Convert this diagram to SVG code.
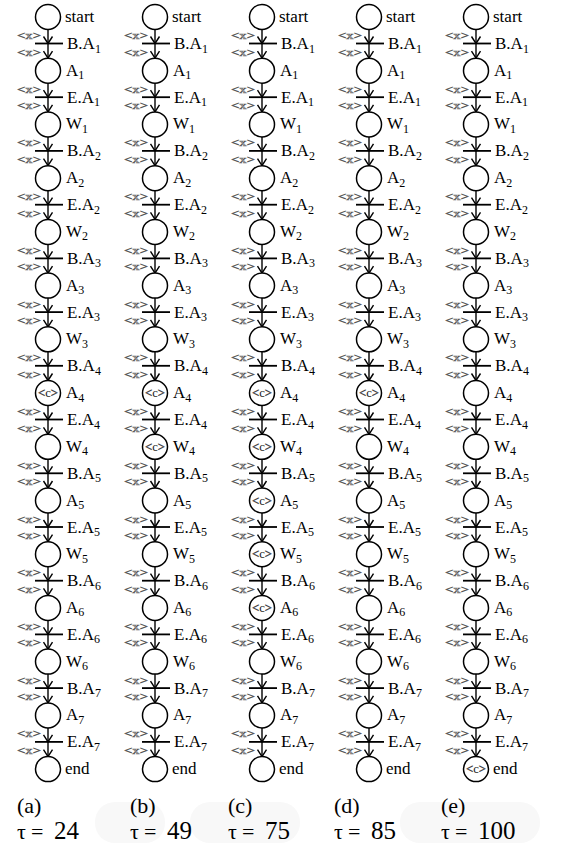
<svg xmlns="http://www.w3.org/2000/svg" width="573" height="843" viewBox="0 0 573 843" font-family="'Liberation Serif', 'Times New Roman', serif">
<defs>
<style>
text{font-family:"Liberation Serif","Times New Roman",serif}
.n circle{fill:#fff;stroke:#000;stroke-width:1.5}
.l{font-size:17px;fill:#000}
.s{font-size:12px}
.x{font-size:11px;fill:#fff;stroke:#555;stroke-width:0.45}
.c{font-size:12px;fill:#fff;stroke:#444;stroke-width:0.5}
.cc{fill:#222;stroke:none}
.bar{stroke:#000;stroke-width:1.8}
.e{fill:none;stroke:#000;stroke-width:1.4;marker-mid:url(#ah);marker-end:url(#ah)}
.cap{font-size:22px;fill:#000}
.num{font-size:25px}
</style>
<marker id="ah" viewBox="0 0 7 10" refX="7" refY="5" markerWidth="7" markerHeight="10" orient="auto" markerUnits="userSpaceOnUse" style="overflow:visible"><path d="M0,0.5 L7,5 L0,9.5" fill="none" stroke="#000" stroke-width="1.4" stroke-linejoin="round"/></marker>
</defs>
<rect width="573" height="843" fill="#fff"/>
<g id="watermark" fill="#f8f8f8">
<rect x="95" y="802" width="70" height="41" rx="20"/>
<rect x="190" y="802" width="110" height="41" rx="20"/>
<rect x="400" y="802" width="140" height="41" rx="20"/>
</g>

<g id="connectors">
<g transform="translate(48,0)"><path class="e" d="M0,29.5V43.5V58.2"/><path class="e" d="M0,83.2V97.2V111.9"/><path class="e" d="M0,136.9V150.9V165.7"/><path class="e" d="M0,190.7V204.7V219.4"/><path class="e" d="M0,244.4V258.4V273.1"/><path class="e" d="M0,298.1V312.1V326.8"/><path class="e" d="M0,351.8V365.8V380.5"/><path class="e" d="M0,405.5V419.5V434.3"/><path class="e" d="M0,459.3V473.3V488"/><path class="e" d="M0,513V527V541.7"/><path class="e" d="M0,566.7V580.7V595.4"/><path class="e" d="M0,620.4V634.4V649.1"/><path class="e" d="M0,674.1V688.1V702.9"/><path class="e" d="M0,727.9V741.9V756.6"/></g>
<g transform="translate(155,0)"><path class="e" d="M0,29.5V43.5V58.2"/><path class="e" d="M0,83.2V97.2V111.9"/><path class="e" d="M0,136.9V150.9V165.7"/><path class="e" d="M0,190.7V204.7V219.4"/><path class="e" d="M0,244.4V258.4V273.1"/><path class="e" d="M0,298.1V312.1V326.8"/><path class="e" d="M0,351.8V365.8V380.5"/><path class="e" d="M0,405.5V419.5V434.3"/><path class="e" d="M0,459.3V473.3V488"/><path class="e" d="M0,513V527V541.7"/><path class="e" d="M0,566.7V580.7V595.4"/><path class="e" d="M0,620.4V634.4V649.1"/><path class="e" d="M0,674.1V688.1V702.9"/><path class="e" d="M0,727.9V741.9V756.6"/></g>
<g transform="translate(262,0)"><path class="e" d="M0,29.5V43.5V58.2"/><path class="e" d="M0,83.2V97.2V111.9"/><path class="e" d="M0,136.9V150.9V165.7"/><path class="e" d="M0,190.7V204.7V219.4"/><path class="e" d="M0,244.4V258.4V273.1"/><path class="e" d="M0,298.1V312.1V326.8"/><path class="e" d="M0,351.8V365.8V380.5"/><path class="e" d="M0,405.5V419.5V434.3"/><path class="e" d="M0,459.3V473.3V488"/><path class="e" d="M0,513V527V541.7"/><path class="e" d="M0,566.7V580.7V595.4"/><path class="e" d="M0,620.4V634.4V649.1"/><path class="e" d="M0,674.1V688.1V702.9"/><path class="e" d="M0,727.9V741.9V756.6"/></g>
<g transform="translate(369,0)"><path class="e" d="M0,29.5V43.5V58.2"/><path class="e" d="M0,83.2V97.2V111.9"/><path class="e" d="M0,136.9V150.9V165.7"/><path class="e" d="M0,190.7V204.7V219.4"/><path class="e" d="M0,244.4V258.4V273.1"/><path class="e" d="M0,298.1V312.1V326.8"/><path class="e" d="M0,351.8V365.8V380.5"/><path class="e" d="M0,405.5V419.5V434.3"/><path class="e" d="M0,459.3V473.3V488"/><path class="e" d="M0,513V527V541.7"/><path class="e" d="M0,566.7V580.7V595.4"/><path class="e" d="M0,620.4V634.4V649.1"/><path class="e" d="M0,674.1V688.1V702.9"/><path class="e" d="M0,727.9V741.9V756.6"/></g>
<g transform="translate(476,0)"><path class="e" d="M0,29.5V43.5V58.2"/><path class="e" d="M0,83.2V97.2V111.9"/><path class="e" d="M0,136.9V150.9V165.7"/><path class="e" d="M0,190.7V204.7V219.4"/><path class="e" d="M0,244.4V258.4V273.1"/><path class="e" d="M0,298.1V312.1V326.8"/><path class="e" d="M0,351.8V365.8V380.5"/><path class="e" d="M0,405.5V419.5V434.3"/><path class="e" d="M0,459.3V473.3V488"/><path class="e" d="M0,513V527V541.7"/><path class="e" d="M0,566.7V580.7V595.4"/><path class="e" d="M0,620.4V634.4V649.1"/><path class="e" d="M0,674.1V688.1V702.9"/><path class="e" d="M0,727.9V741.9V756.6"/></g>
</g>

<g id="col-a" transform="translate(48,0)">
<g id="a-n0" class="n"><circle cx="0" cy="17" r="12.5"/><text class="l" x="17" y="22">start</text></g>
<g id="a-n1" class="n"><circle cx="0" cy="70.7" r="12.5"/><text class="l" x="18" y="75.7">A<tspan class="s" dy="3.5">1</tspan></text></g>
<g id="a-n2" class="n"><circle cx="0" cy="124.4" r="12.5"/><text class="l" x="18" y="129.4">W<tspan class="s" dy="3.5">1</tspan></text></g>
<g id="a-n3" class="n"><circle cx="0" cy="178.2" r="12.5"/><text class="l" x="18" y="183.2">A<tspan class="s" dy="3.5">2</tspan></text></g>
<g id="a-n4" class="n"><circle cx="0" cy="231.9" r="12.5"/><text class="l" x="18" y="236.9">W<tspan class="s" dy="3.5">2</tspan></text></g>
<g id="a-n5" class="n"><circle cx="0" cy="285.6" r="12.5"/><text class="l" x="18" y="290.6">A<tspan class="s" dy="3.5">3</tspan></text></g>
<g id="a-n6" class="n"><circle cx="0" cy="339.3" r="12.5"/><text class="l" x="18" y="344.3">W<tspan class="s" dy="3.5">3</tspan></text></g>
<g id="a-n7" class="n"><circle cx="0" cy="393" r="12.5"/><text class="c" x="-10" y="397" textLength="20" lengthAdjust="spacingAndGlyphs">&lt;<tspan class="cc">c</tspan>&gt;</text><text class="l" x="18" y="398">A<tspan class="s" dy="3.5">4</tspan></text></g>
<g id="a-n8" class="n"><circle cx="0" cy="446.8" r="12.5"/><text class="l" x="18" y="451.8">W<tspan class="s" dy="3.5">4</tspan></text></g>
<g id="a-n9" class="n"><circle cx="0" cy="500.5" r="12.5"/><text class="l" x="18" y="505.5">A<tspan class="s" dy="3.5">5</tspan></text></g>
<g id="a-n10" class="n"><circle cx="0" cy="554.2" r="12.5"/><text class="l" x="18" y="559.2">W<tspan class="s" dy="3.5">5</tspan></text></g>
<g id="a-n11" class="n"><circle cx="0" cy="607.9" r="12.5"/><text class="l" x="18" y="612.9">A<tspan class="s" dy="3.5">6</tspan></text></g>
<g id="a-n12" class="n"><circle cx="0" cy="661.6" r="12.5"/><text class="l" x="18" y="666.6">W<tspan class="s" dy="3.5">6</tspan></text></g>
<g id="a-n13" class="n"><circle cx="0" cy="715.4" r="12.5"/><text class="l" x="18" y="720.4">A<tspan class="s" dy="3.5">7</tspan></text></g>
<g id="a-n14" class="n"><circle cx="0" cy="769.1" r="12.5"/><text class="l" x="17" y="774.1">end</text></g>
<g id="a-t0"><line class="bar" x1="-13" y1="43.5" x2="15" y2="43.5"/><text class="l" x="19" y="49">B.A<tspan class="s" dy="3.5">1</tspan></text><text class="x" x="-31" y="39" textLength="24" lengthAdjust="spacingAndGlyphs">&lt;x&gt;</text><text class="x" x="-31" y="55.5" textLength="24" lengthAdjust="spacingAndGlyphs">&lt;x&gt;</text></g>
<g id="a-t1"><line class="bar" x1="-13" y1="97.2" x2="15" y2="97.2"/><text class="l" x="19" y="102.7">E.A<tspan class="s" dy="3.5">1</tspan></text><text class="x" x="-31" y="92.7" textLength="24" lengthAdjust="spacingAndGlyphs">&lt;x&gt;</text><text class="x" x="-31" y="109.2" textLength="24" lengthAdjust="spacingAndGlyphs">&lt;x&gt;</text></g>
<g id="a-t2"><line class="bar" x1="-13" y1="150.9" x2="15" y2="150.9"/><text class="l" x="19" y="156.4">B.A<tspan class="s" dy="3.5">2</tspan></text><text class="x" x="-31" y="146.4" textLength="24" lengthAdjust="spacingAndGlyphs">&lt;x&gt;</text><text class="x" x="-31" y="162.9" textLength="24" lengthAdjust="spacingAndGlyphs">&lt;x&gt;</text></g>
<g id="a-t3"><line class="bar" x1="-13" y1="204.7" x2="15" y2="204.7"/><text class="l" x="19" y="210.2">E.A<tspan class="s" dy="3.5">2</tspan></text><text class="x" x="-31" y="200.2" textLength="24" lengthAdjust="spacingAndGlyphs">&lt;x&gt;</text><text class="x" x="-31" y="216.7" textLength="24" lengthAdjust="spacingAndGlyphs">&lt;x&gt;</text></g>
<g id="a-t4"><line class="bar" x1="-13" y1="258.4" x2="15" y2="258.4"/><text class="l" x="19" y="263.9">B.A<tspan class="s" dy="3.5">3</tspan></text><text class="x" x="-31" y="253.9" textLength="24" lengthAdjust="spacingAndGlyphs">&lt;x&gt;</text><text class="x" x="-31" y="270.4" textLength="24" lengthAdjust="spacingAndGlyphs">&lt;x&gt;</text></g>
<g id="a-t5"><line class="bar" x1="-13" y1="312.1" x2="15" y2="312.1"/><text class="l" x="19" y="317.6">E.A<tspan class="s" dy="3.5">3</tspan></text><text class="x" x="-31" y="307.6" textLength="24" lengthAdjust="spacingAndGlyphs">&lt;x&gt;</text><text class="x" x="-31" y="324.1" textLength="24" lengthAdjust="spacingAndGlyphs">&lt;x&gt;</text></g>
<g id="a-t6"><line class="bar" x1="-13" y1="365.8" x2="15" y2="365.8"/><text class="l" x="19" y="371.3">B.A<tspan class="s" dy="3.5">4</tspan></text><text class="x" x="-31" y="361.3" textLength="24" lengthAdjust="spacingAndGlyphs">&lt;x&gt;</text><text class="x" x="-31" y="377.8" textLength="24" lengthAdjust="spacingAndGlyphs">&lt;x&gt;</text></g>
<g id="a-t7"><line class="bar" x1="-13" y1="419.5" x2="15" y2="419.5"/><text class="l" x="19" y="425">E.A<tspan class="s" dy="3.5">4</tspan></text><text class="x" x="-31" y="415" textLength="24" lengthAdjust="spacingAndGlyphs">&lt;x&gt;</text><text class="x" x="-31" y="431.5" textLength="24" lengthAdjust="spacingAndGlyphs">&lt;x&gt;</text></g>
<g id="a-t8"><line class="bar" x1="-13" y1="473.3" x2="15" y2="473.3"/><text class="l" x="19" y="478.8">B.A<tspan class="s" dy="3.5">5</tspan></text><text class="x" x="-31" y="468.8" textLength="24" lengthAdjust="spacingAndGlyphs">&lt;x&gt;</text><text class="x" x="-31" y="485.3" textLength="24" lengthAdjust="spacingAndGlyphs">&lt;x&gt;</text></g>
<g id="a-t9"><line class="bar" x1="-13" y1="527" x2="15" y2="527"/><text class="l" x="19" y="532.5">E.A<tspan class="s" dy="3.5">5</tspan></text><text class="x" x="-31" y="522.5" textLength="24" lengthAdjust="spacingAndGlyphs">&lt;x&gt;</text><text class="x" x="-31" y="539" textLength="24" lengthAdjust="spacingAndGlyphs">&lt;x&gt;</text></g>
<g id="a-t10"><line class="bar" x1="-13" y1="580.7" x2="15" y2="580.7"/><text class="l" x="19" y="586.2">B.A<tspan class="s" dy="3.5">6</tspan></text><text class="x" x="-31" y="576.2" textLength="24" lengthAdjust="spacingAndGlyphs">&lt;x&gt;</text><text class="x" x="-31" y="592.7" textLength="24" lengthAdjust="spacingAndGlyphs">&lt;x&gt;</text></g>
<g id="a-t11"><line class="bar" x1="-13" y1="634.4" x2="15" y2="634.4"/><text class="l" x="19" y="639.9">E.A<tspan class="s" dy="3.5">6</tspan></text><text class="x" x="-31" y="629.9" textLength="24" lengthAdjust="spacingAndGlyphs">&lt;x&gt;</text><text class="x" x="-31" y="646.4" textLength="24" lengthAdjust="spacingAndGlyphs">&lt;x&gt;</text></g>
<g id="a-t12"><line class="bar" x1="-13" y1="688.1" x2="15" y2="688.1"/><text class="l" x="19" y="693.6">B.A<tspan class="s" dy="3.5">7</tspan></text><text class="x" x="-31" y="683.6" textLength="24" lengthAdjust="spacingAndGlyphs">&lt;x&gt;</text><text class="x" x="-31" y="700.1" textLength="24" lengthAdjust="spacingAndGlyphs">&lt;x&gt;</text></g>
<g id="a-t13"><line class="bar" x1="-13" y1="741.9" x2="15" y2="741.9"/><text class="l" x="19" y="747.4">E.A<tspan class="s" dy="3.5">7</tspan></text><text class="x" x="-31" y="737.4" textLength="24" lengthAdjust="spacingAndGlyphs">&lt;x&gt;</text><text class="x" x="-31" y="753.9" textLength="24" lengthAdjust="spacingAndGlyphs">&lt;x&gt;</text></g>
</g>

<g id="col-b" transform="translate(155,0)">
<g id="b-n0" class="n"><circle cx="0" cy="17" r="12.5"/><text class="l" x="17" y="22">start</text></g>
<g id="b-n1" class="n"><circle cx="0" cy="70.7" r="12.5"/><text class="l" x="18" y="75.7">A<tspan class="s" dy="3.5">1</tspan></text></g>
<g id="b-n2" class="n"><circle cx="0" cy="124.4" r="12.5"/><text class="l" x="18" y="129.4">W<tspan class="s" dy="3.5">1</tspan></text></g>
<g id="b-n3" class="n"><circle cx="0" cy="178.2" r="12.5"/><text class="l" x="18" y="183.2">A<tspan class="s" dy="3.5">2</tspan></text></g>
<g id="b-n4" class="n"><circle cx="0" cy="231.9" r="12.5"/><text class="l" x="18" y="236.9">W<tspan class="s" dy="3.5">2</tspan></text></g>
<g id="b-n5" class="n"><circle cx="0" cy="285.6" r="12.5"/><text class="l" x="18" y="290.6">A<tspan class="s" dy="3.5">3</tspan></text></g>
<g id="b-n6" class="n"><circle cx="0" cy="339.3" r="12.5"/><text class="l" x="18" y="344.3">W<tspan class="s" dy="3.5">3</tspan></text></g>
<g id="b-n7" class="n"><circle cx="0" cy="393" r="12.5"/><text class="c" x="-10" y="397" textLength="20" lengthAdjust="spacingAndGlyphs">&lt;<tspan class="cc">c</tspan>&gt;</text><text class="l" x="18" y="398">A<tspan class="s" dy="3.5">4</tspan></text></g>
<g id="b-n8" class="n"><circle cx="0" cy="446.8" r="12.5"/><text class="c" x="-10" y="450.8" textLength="20" lengthAdjust="spacingAndGlyphs">&lt;<tspan class="cc">c</tspan>&gt;</text><text class="l" x="18" y="451.8">W<tspan class="s" dy="3.5">4</tspan></text></g>
<g id="b-n9" class="n"><circle cx="0" cy="500.5" r="12.5"/><text class="l" x="18" y="505.5">A<tspan class="s" dy="3.5">5</tspan></text></g>
<g id="b-n10" class="n"><circle cx="0" cy="554.2" r="12.5"/><text class="l" x="18" y="559.2">W<tspan class="s" dy="3.5">5</tspan></text></g>
<g id="b-n11" class="n"><circle cx="0" cy="607.9" r="12.5"/><text class="l" x="18" y="612.9">A<tspan class="s" dy="3.5">6</tspan></text></g>
<g id="b-n12" class="n"><circle cx="0" cy="661.6" r="12.5"/><text class="l" x="18" y="666.6">W<tspan class="s" dy="3.5">6</tspan></text></g>
<g id="b-n13" class="n"><circle cx="0" cy="715.4" r="12.5"/><text class="l" x="18" y="720.4">A<tspan class="s" dy="3.5">7</tspan></text></g>
<g id="b-n14" class="n"><circle cx="0" cy="769.1" r="12.5"/><text class="l" x="17" y="774.1">end</text></g>
<g id="b-t0"><line class="bar" x1="-13" y1="43.5" x2="15" y2="43.5"/><text class="l" x="19" y="49">B.A<tspan class="s" dy="3.5">1</tspan></text><text class="x" x="-31" y="39" textLength="24" lengthAdjust="spacingAndGlyphs">&lt;x&gt;</text><text class="x" x="-31" y="55.5" textLength="24" lengthAdjust="spacingAndGlyphs">&lt;x&gt;</text></g>
<g id="b-t1"><line class="bar" x1="-13" y1="97.2" x2="15" y2="97.2"/><text class="l" x="19" y="102.7">E.A<tspan class="s" dy="3.5">1</tspan></text><text class="x" x="-31" y="92.7" textLength="24" lengthAdjust="spacingAndGlyphs">&lt;x&gt;</text><text class="x" x="-31" y="109.2" textLength="24" lengthAdjust="spacingAndGlyphs">&lt;x&gt;</text></g>
<g id="b-t2"><line class="bar" x1="-13" y1="150.9" x2="15" y2="150.9"/><text class="l" x="19" y="156.4">B.A<tspan class="s" dy="3.5">2</tspan></text><text class="x" x="-31" y="146.4" textLength="24" lengthAdjust="spacingAndGlyphs">&lt;x&gt;</text><text class="x" x="-31" y="162.9" textLength="24" lengthAdjust="spacingAndGlyphs">&lt;x&gt;</text></g>
<g id="b-t3"><line class="bar" x1="-13" y1="204.7" x2="15" y2="204.7"/><text class="l" x="19" y="210.2">E.A<tspan class="s" dy="3.5">2</tspan></text><text class="x" x="-31" y="200.2" textLength="24" lengthAdjust="spacingAndGlyphs">&lt;x&gt;</text><text class="x" x="-31" y="216.7" textLength="24" lengthAdjust="spacingAndGlyphs">&lt;x&gt;</text></g>
<g id="b-t4"><line class="bar" x1="-13" y1="258.4" x2="15" y2="258.4"/><text class="l" x="19" y="263.9">B.A<tspan class="s" dy="3.5">3</tspan></text><text class="x" x="-31" y="253.9" textLength="24" lengthAdjust="spacingAndGlyphs">&lt;x&gt;</text><text class="x" x="-31" y="270.4" textLength="24" lengthAdjust="spacingAndGlyphs">&lt;x&gt;</text></g>
<g id="b-t5"><line class="bar" x1="-13" y1="312.1" x2="15" y2="312.1"/><text class="l" x="19" y="317.6">E.A<tspan class="s" dy="3.5">3</tspan></text><text class="x" x="-31" y="307.6" textLength="24" lengthAdjust="spacingAndGlyphs">&lt;x&gt;</text><text class="x" x="-31" y="324.1" textLength="24" lengthAdjust="spacingAndGlyphs">&lt;x&gt;</text></g>
<g id="b-t6"><line class="bar" x1="-13" y1="365.8" x2="15" y2="365.8"/><text class="l" x="19" y="371.3">B.A<tspan class="s" dy="3.5">4</tspan></text><text class="x" x="-31" y="361.3" textLength="24" lengthAdjust="spacingAndGlyphs">&lt;x&gt;</text><text class="x" x="-31" y="377.8" textLength="24" lengthAdjust="spacingAndGlyphs">&lt;x&gt;</text></g>
<g id="b-t7"><line class="bar" x1="-13" y1="419.5" x2="15" y2="419.5"/><text class="l" x="19" y="425">E.A<tspan class="s" dy="3.5">4</tspan></text><text class="x" x="-31" y="415" textLength="24" lengthAdjust="spacingAndGlyphs">&lt;x&gt;</text><text class="x" x="-31" y="431.5" textLength="24" lengthAdjust="spacingAndGlyphs">&lt;x&gt;</text></g>
<g id="b-t8"><line class="bar" x1="-13" y1="473.3" x2="15" y2="473.3"/><text class="l" x="19" y="478.8">B.A<tspan class="s" dy="3.5">5</tspan></text><text class="x" x="-31" y="468.8" textLength="24" lengthAdjust="spacingAndGlyphs">&lt;x&gt;</text><text class="x" x="-31" y="485.3" textLength="24" lengthAdjust="spacingAndGlyphs">&lt;x&gt;</text></g>
<g id="b-t9"><line class="bar" x1="-13" y1="527" x2="15" y2="527"/><text class="l" x="19" y="532.5">E.A<tspan class="s" dy="3.5">5</tspan></text><text class="x" x="-31" y="522.5" textLength="24" lengthAdjust="spacingAndGlyphs">&lt;x&gt;</text><text class="x" x="-31" y="539" textLength="24" lengthAdjust="spacingAndGlyphs">&lt;x&gt;</text></g>
<g id="b-t10"><line class="bar" x1="-13" y1="580.7" x2="15" y2="580.7"/><text class="l" x="19" y="586.2">B.A<tspan class="s" dy="3.5">6</tspan></text><text class="x" x="-31" y="576.2" textLength="24" lengthAdjust="spacingAndGlyphs">&lt;x&gt;</text><text class="x" x="-31" y="592.7" textLength="24" lengthAdjust="spacingAndGlyphs">&lt;x&gt;</text></g>
<g id="b-t11"><line class="bar" x1="-13" y1="634.4" x2="15" y2="634.4"/><text class="l" x="19" y="639.9">E.A<tspan class="s" dy="3.5">6</tspan></text><text class="x" x="-31" y="629.9" textLength="24" lengthAdjust="spacingAndGlyphs">&lt;x&gt;</text><text class="x" x="-31" y="646.4" textLength="24" lengthAdjust="spacingAndGlyphs">&lt;x&gt;</text></g>
<g id="b-t12"><line class="bar" x1="-13" y1="688.1" x2="15" y2="688.1"/><text class="l" x="19" y="693.6">B.A<tspan class="s" dy="3.5">7</tspan></text><text class="x" x="-31" y="683.6" textLength="24" lengthAdjust="spacingAndGlyphs">&lt;x&gt;</text><text class="x" x="-31" y="700.1" textLength="24" lengthAdjust="spacingAndGlyphs">&lt;x&gt;</text></g>
<g id="b-t13"><line class="bar" x1="-13" y1="741.9" x2="15" y2="741.9"/><text class="l" x="19" y="747.4">E.A<tspan class="s" dy="3.5">7</tspan></text><text class="x" x="-31" y="737.4" textLength="24" lengthAdjust="spacingAndGlyphs">&lt;x&gt;</text><text class="x" x="-31" y="753.9" textLength="24" lengthAdjust="spacingAndGlyphs">&lt;x&gt;</text></g>
</g>

<g id="col-c" transform="translate(262,0)">
<g id="c-n0" class="n"><circle cx="0" cy="17" r="12.5"/><text class="l" x="17" y="22">start</text></g>
<g id="c-n1" class="n"><circle cx="0" cy="70.7" r="12.5"/><text class="l" x="18" y="75.7">A<tspan class="s" dy="3.5">1</tspan></text></g>
<g id="c-n2" class="n"><circle cx="0" cy="124.4" r="12.5"/><text class="l" x="18" y="129.4">W<tspan class="s" dy="3.5">1</tspan></text></g>
<g id="c-n3" class="n"><circle cx="0" cy="178.2" r="12.5"/><text class="l" x="18" y="183.2">A<tspan class="s" dy="3.5">2</tspan></text></g>
<g id="c-n4" class="n"><circle cx="0" cy="231.9" r="12.5"/><text class="l" x="18" y="236.9">W<tspan class="s" dy="3.5">2</tspan></text></g>
<g id="c-n5" class="n"><circle cx="0" cy="285.6" r="12.5"/><text class="l" x="18" y="290.6">A<tspan class="s" dy="3.5">3</tspan></text></g>
<g id="c-n6" class="n"><circle cx="0" cy="339.3" r="12.5"/><text class="l" x="18" y="344.3">W<tspan class="s" dy="3.5">3</tspan></text></g>
<g id="c-n7" class="n"><circle cx="0" cy="393" r="12.5"/><text class="c" x="-10" y="397" textLength="20" lengthAdjust="spacingAndGlyphs">&lt;<tspan class="cc">c</tspan>&gt;</text><text class="l" x="18" y="398">A<tspan class="s" dy="3.5">4</tspan></text></g>
<g id="c-n8" class="n"><circle cx="0" cy="446.8" r="12.5"/><text class="c" x="-10" y="450.8" textLength="20" lengthAdjust="spacingAndGlyphs">&lt;<tspan class="cc">c</tspan>&gt;</text><text class="l" x="18" y="451.8">W<tspan class="s" dy="3.5">4</tspan></text></g>
<g id="c-n9" class="n"><circle cx="0" cy="500.5" r="12.5"/><text class="c" x="-10" y="504.5" textLength="20" lengthAdjust="spacingAndGlyphs">&lt;<tspan class="cc">c</tspan>&gt;</text><text class="l" x="18" y="505.5">A<tspan class="s" dy="3.5">5</tspan></text></g>
<g id="c-n10" class="n"><circle cx="0" cy="554.2" r="12.5"/><text class="c" x="-10" y="558.2" textLength="20" lengthAdjust="spacingAndGlyphs">&lt;<tspan class="cc">c</tspan>&gt;</text><text class="l" x="18" y="559.2">W<tspan class="s" dy="3.5">5</tspan></text></g>
<g id="c-n11" class="n"><circle cx="0" cy="607.9" r="12.5"/><text class="c" x="-10" y="611.9" textLength="20" lengthAdjust="spacingAndGlyphs">&lt;<tspan class="cc">c</tspan>&gt;</text><text class="l" x="18" y="612.9">A<tspan class="s" dy="3.5">6</tspan></text></g>
<g id="c-n12" class="n"><circle cx="0" cy="661.6" r="12.5"/><text class="l" x="18" y="666.6">W<tspan class="s" dy="3.5">6</tspan></text></g>
<g id="c-n13" class="n"><circle cx="0" cy="715.4" r="12.5"/><text class="l" x="18" y="720.4">A<tspan class="s" dy="3.5">7</tspan></text></g>
<g id="c-n14" class="n"><circle cx="0" cy="769.1" r="12.5"/><text class="l" x="17" y="774.1">end</text></g>
<g id="c-t0"><line class="bar" x1="-13" y1="43.5" x2="15" y2="43.5"/><text class="l" x="19" y="49">B.A<tspan class="s" dy="3.5">1</tspan></text><text class="x" x="-31" y="39" textLength="24" lengthAdjust="spacingAndGlyphs">&lt;x&gt;</text><text class="x" x="-31" y="55.5" textLength="24" lengthAdjust="spacingAndGlyphs">&lt;x&gt;</text></g>
<g id="c-t1"><line class="bar" x1="-13" y1="97.2" x2="15" y2="97.2"/><text class="l" x="19" y="102.7">E.A<tspan class="s" dy="3.5">1</tspan></text><text class="x" x="-31" y="92.7" textLength="24" lengthAdjust="spacingAndGlyphs">&lt;x&gt;</text><text class="x" x="-31" y="109.2" textLength="24" lengthAdjust="spacingAndGlyphs">&lt;x&gt;</text></g>
<g id="c-t2"><line class="bar" x1="-13" y1="150.9" x2="15" y2="150.9"/><text class="l" x="19" y="156.4">B.A<tspan class="s" dy="3.5">2</tspan></text><text class="x" x="-31" y="146.4" textLength="24" lengthAdjust="spacingAndGlyphs">&lt;x&gt;</text><text class="x" x="-31" y="162.9" textLength="24" lengthAdjust="spacingAndGlyphs">&lt;x&gt;</text></g>
<g id="c-t3"><line class="bar" x1="-13" y1="204.7" x2="15" y2="204.7"/><text class="l" x="19" y="210.2">E.A<tspan class="s" dy="3.5">2</tspan></text><text class="x" x="-31" y="200.2" textLength="24" lengthAdjust="spacingAndGlyphs">&lt;x&gt;</text><text class="x" x="-31" y="216.7" textLength="24" lengthAdjust="spacingAndGlyphs">&lt;x&gt;</text></g>
<g id="c-t4"><line class="bar" x1="-13" y1="258.4" x2="15" y2="258.4"/><text class="l" x="19" y="263.9">B.A<tspan class="s" dy="3.5">3</tspan></text><text class="x" x="-31" y="253.9" textLength="24" lengthAdjust="spacingAndGlyphs">&lt;x&gt;</text><text class="x" x="-31" y="270.4" textLength="24" lengthAdjust="spacingAndGlyphs">&lt;x&gt;</text></g>
<g id="c-t5"><line class="bar" x1="-13" y1="312.1" x2="15" y2="312.1"/><text class="l" x="19" y="317.6">E.A<tspan class="s" dy="3.5">3</tspan></text><text class="x" x="-31" y="307.6" textLength="24" lengthAdjust="spacingAndGlyphs">&lt;x&gt;</text><text class="x" x="-31" y="324.1" textLength="24" lengthAdjust="spacingAndGlyphs">&lt;x&gt;</text></g>
<g id="c-t6"><line class="bar" x1="-13" y1="365.8" x2="15" y2="365.8"/><text class="l" x="19" y="371.3">B.A<tspan class="s" dy="3.5">4</tspan></text><text class="x" x="-31" y="361.3" textLength="24" lengthAdjust="spacingAndGlyphs">&lt;x&gt;</text><text class="x" x="-31" y="377.8" textLength="24" lengthAdjust="spacingAndGlyphs">&lt;x&gt;</text></g>
<g id="c-t7"><line class="bar" x1="-13" y1="419.5" x2="15" y2="419.5"/><text class="l" x="19" y="425">E.A<tspan class="s" dy="3.5">4</tspan></text><text class="x" x="-31" y="415" textLength="24" lengthAdjust="spacingAndGlyphs">&lt;x&gt;</text><text class="x" x="-31" y="431.5" textLength="24" lengthAdjust="spacingAndGlyphs">&lt;x&gt;</text></g>
<g id="c-t8"><line class="bar" x1="-13" y1="473.3" x2="15" y2="473.3"/><text class="l" x="19" y="478.8">B.A<tspan class="s" dy="3.5">5</tspan></text><text class="x" x="-31" y="468.8" textLength="24" lengthAdjust="spacingAndGlyphs">&lt;x&gt;</text><text class="x" x="-31" y="485.3" textLength="24" lengthAdjust="spacingAndGlyphs">&lt;x&gt;</text></g>
<g id="c-t9"><line class="bar" x1="-13" y1="527" x2="15" y2="527"/><text class="l" x="19" y="532.5">E.A<tspan class="s" dy="3.5">5</tspan></text><text class="x" x="-31" y="522.5" textLength="24" lengthAdjust="spacingAndGlyphs">&lt;x&gt;</text><text class="x" x="-31" y="539" textLength="24" lengthAdjust="spacingAndGlyphs">&lt;x&gt;</text></g>
<g id="c-t10"><line class="bar" x1="-13" y1="580.7" x2="15" y2="580.7"/><text class="l" x="19" y="586.2">B.A<tspan class="s" dy="3.5">6</tspan></text><text class="x" x="-31" y="576.2" textLength="24" lengthAdjust="spacingAndGlyphs">&lt;x&gt;</text><text class="x" x="-31" y="592.7" textLength="24" lengthAdjust="spacingAndGlyphs">&lt;x&gt;</text></g>
<g id="c-t11"><line class="bar" x1="-13" y1="634.4" x2="15" y2="634.4"/><text class="l" x="19" y="639.9">E.A<tspan class="s" dy="3.5">6</tspan></text><text class="x" x="-31" y="629.9" textLength="24" lengthAdjust="spacingAndGlyphs">&lt;x&gt;</text><text class="x" x="-31" y="646.4" textLength="24" lengthAdjust="spacingAndGlyphs">&lt;x&gt;</text></g>
<g id="c-t12"><line class="bar" x1="-13" y1="688.1" x2="15" y2="688.1"/><text class="l" x="19" y="693.6">B.A<tspan class="s" dy="3.5">7</tspan></text><text class="x" x="-31" y="683.6" textLength="24" lengthAdjust="spacingAndGlyphs">&lt;x&gt;</text><text class="x" x="-31" y="700.1" textLength="24" lengthAdjust="spacingAndGlyphs">&lt;x&gt;</text></g>
<g id="c-t13"><line class="bar" x1="-13" y1="741.9" x2="15" y2="741.9"/><text class="l" x="19" y="747.4">E.A<tspan class="s" dy="3.5">7</tspan></text><text class="x" x="-31" y="737.4" textLength="24" lengthAdjust="spacingAndGlyphs">&lt;x&gt;</text><text class="x" x="-31" y="753.9" textLength="24" lengthAdjust="spacingAndGlyphs">&lt;x&gt;</text></g>
</g>

<g id="col-d" transform="translate(369,0)">
<g id="d-n0" class="n"><circle cx="0" cy="17" r="12.5"/><text class="l" x="17" y="22">start</text></g>
<g id="d-n1" class="n"><circle cx="0" cy="70.7" r="12.5"/><text class="l" x="18" y="75.7">A<tspan class="s" dy="3.5">1</tspan></text></g>
<g id="d-n2" class="n"><circle cx="0" cy="124.4" r="12.5"/><text class="l" x="18" y="129.4">W<tspan class="s" dy="3.5">1</tspan></text></g>
<g id="d-n3" class="n"><circle cx="0" cy="178.2" r="12.5"/><text class="l" x="18" y="183.2">A<tspan class="s" dy="3.5">2</tspan></text></g>
<g id="d-n4" class="n"><circle cx="0" cy="231.9" r="12.5"/><text class="l" x="18" y="236.9">W<tspan class="s" dy="3.5">2</tspan></text></g>
<g id="d-n5" class="n"><circle cx="0" cy="285.6" r="12.5"/><text class="l" x="18" y="290.6">A<tspan class="s" dy="3.5">3</tspan></text></g>
<g id="d-n6" class="n"><circle cx="0" cy="339.3" r="12.5"/><text class="l" x="18" y="344.3">W<tspan class="s" dy="3.5">3</tspan></text></g>
<g id="d-n7" class="n"><circle cx="0" cy="393" r="12.5"/><text class="c" x="-10" y="397" textLength="20" lengthAdjust="spacingAndGlyphs">&lt;<tspan class="cc">c</tspan>&gt;</text><text class="l" x="18" y="398">A<tspan class="s" dy="3.5">4</tspan></text></g>
<g id="d-n8" class="n"><circle cx="0" cy="446.8" r="12.5"/><text class="l" x="18" y="451.8">W<tspan class="s" dy="3.5">4</tspan></text></g>
<g id="d-n9" class="n"><circle cx="0" cy="500.5" r="12.5"/><text class="l" x="18" y="505.5">A<tspan class="s" dy="3.5">5</tspan></text></g>
<g id="d-n10" class="n"><circle cx="0" cy="554.2" r="12.5"/><text class="l" x="18" y="559.2">W<tspan class="s" dy="3.5">5</tspan></text></g>
<g id="d-n11" class="n"><circle cx="0" cy="607.9" r="12.5"/><text class="l" x="18" y="612.9">A<tspan class="s" dy="3.5">6</tspan></text></g>
<g id="d-n12" class="n"><circle cx="0" cy="661.6" r="12.5"/><text class="l" x="18" y="666.6">W<tspan class="s" dy="3.5">6</tspan></text></g>
<g id="d-n13" class="n"><circle cx="0" cy="715.4" r="12.5"/><text class="l" x="18" y="720.4">A<tspan class="s" dy="3.5">7</tspan></text></g>
<g id="d-n14" class="n"><circle cx="0" cy="769.1" r="12.5"/><text class="l" x="17" y="774.1">end</text></g>
<g id="d-t0"><line class="bar" x1="-13" y1="43.5" x2="15" y2="43.5"/><text class="l" x="19" y="49">B.A<tspan class="s" dy="3.5">1</tspan></text><text class="x" x="-31" y="39" textLength="24" lengthAdjust="spacingAndGlyphs">&lt;x&gt;</text><text class="x" x="-31" y="55.5" textLength="24" lengthAdjust="spacingAndGlyphs">&lt;x&gt;</text></g>
<g id="d-t1"><line class="bar" x1="-13" y1="97.2" x2="15" y2="97.2"/><text class="l" x="19" y="102.7">E.A<tspan class="s" dy="3.5">1</tspan></text><text class="x" x="-31" y="92.7" textLength="24" lengthAdjust="spacingAndGlyphs">&lt;x&gt;</text><text class="x" x="-31" y="109.2" textLength="24" lengthAdjust="spacingAndGlyphs">&lt;x&gt;</text></g>
<g id="d-t2"><line class="bar" x1="-13" y1="150.9" x2="15" y2="150.9"/><text class="l" x="19" y="156.4">B.A<tspan class="s" dy="3.5">2</tspan></text><text class="x" x="-31" y="146.4" textLength="24" lengthAdjust="spacingAndGlyphs">&lt;x&gt;</text><text class="x" x="-31" y="162.9" textLength="24" lengthAdjust="spacingAndGlyphs">&lt;x&gt;</text></g>
<g id="d-t3"><line class="bar" x1="-13" y1="204.7" x2="15" y2="204.7"/><text class="l" x="19" y="210.2">E.A<tspan class="s" dy="3.5">2</tspan></text><text class="x" x="-31" y="200.2" textLength="24" lengthAdjust="spacingAndGlyphs">&lt;x&gt;</text><text class="x" x="-31" y="216.7" textLength="24" lengthAdjust="spacingAndGlyphs">&lt;x&gt;</text></g>
<g id="d-t4"><line class="bar" x1="-13" y1="258.4" x2="15" y2="258.4"/><text class="l" x="19" y="263.9">B.A<tspan class="s" dy="3.5">3</tspan></text><text class="x" x="-31" y="253.9" textLength="24" lengthAdjust="spacingAndGlyphs">&lt;x&gt;</text><text class="x" x="-31" y="270.4" textLength="24" lengthAdjust="spacingAndGlyphs">&lt;x&gt;</text></g>
<g id="d-t5"><line class="bar" x1="-13" y1="312.1" x2="15" y2="312.1"/><text class="l" x="19" y="317.6">E.A<tspan class="s" dy="3.5">3</tspan></text><text class="x" x="-31" y="307.6" textLength="24" lengthAdjust="spacingAndGlyphs">&lt;x&gt;</text><text class="x" x="-31" y="324.1" textLength="24" lengthAdjust="spacingAndGlyphs">&lt;x&gt;</text></g>
<g id="d-t6"><line class="bar" x1="-13" y1="365.8" x2="15" y2="365.8"/><text class="l" x="19" y="371.3">B.A<tspan class="s" dy="3.5">4</tspan></text><text class="x" x="-31" y="361.3" textLength="24" lengthAdjust="spacingAndGlyphs">&lt;x&gt;</text><text class="x" x="-31" y="377.8" textLength="24" lengthAdjust="spacingAndGlyphs">&lt;x&gt;</text></g>
<g id="d-t7"><line class="bar" x1="-13" y1="419.5" x2="15" y2="419.5"/><text class="l" x="19" y="425">E.A<tspan class="s" dy="3.5">4</tspan></text><text class="x" x="-31" y="415" textLength="24" lengthAdjust="spacingAndGlyphs">&lt;x&gt;</text><text class="x" x="-31" y="431.5" textLength="24" lengthAdjust="spacingAndGlyphs">&lt;x&gt;</text></g>
<g id="d-t8"><line class="bar" x1="-13" y1="473.3" x2="15" y2="473.3"/><text class="l" x="19" y="478.8">B.A<tspan class="s" dy="3.5">5</tspan></text><text class="x" x="-31" y="468.8" textLength="24" lengthAdjust="spacingAndGlyphs">&lt;x&gt;</text><text class="x" x="-31" y="485.3" textLength="24" lengthAdjust="spacingAndGlyphs">&lt;x&gt;</text></g>
<g id="d-t9"><line class="bar" x1="-13" y1="527" x2="15" y2="527"/><text class="l" x="19" y="532.5">E.A<tspan class="s" dy="3.5">5</tspan></text><text class="x" x="-31" y="522.5" textLength="24" lengthAdjust="spacingAndGlyphs">&lt;x&gt;</text><text class="x" x="-31" y="539" textLength="24" lengthAdjust="spacingAndGlyphs">&lt;x&gt;</text></g>
<g id="d-t10"><line class="bar" x1="-13" y1="580.7" x2="15" y2="580.7"/><text class="l" x="19" y="586.2">B.A<tspan class="s" dy="3.5">6</tspan></text><text class="x" x="-31" y="576.2" textLength="24" lengthAdjust="spacingAndGlyphs">&lt;x&gt;</text><text class="x" x="-31" y="592.7" textLength="24" lengthAdjust="spacingAndGlyphs">&lt;x&gt;</text></g>
<g id="d-t11"><line class="bar" x1="-13" y1="634.4" x2="15" y2="634.4"/><text class="l" x="19" y="639.9">E.A<tspan class="s" dy="3.5">6</tspan></text><text class="x" x="-31" y="629.9" textLength="24" lengthAdjust="spacingAndGlyphs">&lt;x&gt;</text><text class="x" x="-31" y="646.4" textLength="24" lengthAdjust="spacingAndGlyphs">&lt;x&gt;</text></g>
<g id="d-t12"><line class="bar" x1="-13" y1="688.1" x2="15" y2="688.1"/><text class="l" x="19" y="693.6">B.A<tspan class="s" dy="3.5">7</tspan></text><text class="x" x="-31" y="683.6" textLength="24" lengthAdjust="spacingAndGlyphs">&lt;x&gt;</text><text class="x" x="-31" y="700.1" textLength="24" lengthAdjust="spacingAndGlyphs">&lt;x&gt;</text></g>
<g id="d-t13"><line class="bar" x1="-13" y1="741.9" x2="15" y2="741.9"/><text class="l" x="19" y="747.4">E.A<tspan class="s" dy="3.5">7</tspan></text><text class="x" x="-31" y="737.4" textLength="24" lengthAdjust="spacingAndGlyphs">&lt;x&gt;</text><text class="x" x="-31" y="753.9" textLength="24" lengthAdjust="spacingAndGlyphs">&lt;x&gt;</text></g>
</g>

<g id="col-e" transform="translate(476,0)">
<g id="e-n0" class="n"><circle cx="0" cy="17" r="12.5"/><text class="l" x="17" y="22">start</text></g>
<g id="e-n1" class="n"><circle cx="0" cy="70.7" r="12.5"/><text class="l" x="18" y="75.7">A<tspan class="s" dy="3.5">1</tspan></text></g>
<g id="e-n2" class="n"><circle cx="0" cy="124.4" r="12.5"/><text class="l" x="18" y="129.4">W<tspan class="s" dy="3.5">1</tspan></text></g>
<g id="e-n3" class="n"><circle cx="0" cy="178.2" r="12.5"/><text class="l" x="18" y="183.2">A<tspan class="s" dy="3.5">2</tspan></text></g>
<g id="e-n4" class="n"><circle cx="0" cy="231.9" r="12.5"/><text class="l" x="18" y="236.9">W<tspan class="s" dy="3.5">2</tspan></text></g>
<g id="e-n5" class="n"><circle cx="0" cy="285.6" r="12.5"/><text class="l" x="18" y="290.6">A<tspan class="s" dy="3.5">3</tspan></text></g>
<g id="e-n6" class="n"><circle cx="0" cy="339.3" r="12.5"/><text class="l" x="18" y="344.3">W<tspan class="s" dy="3.5">3</tspan></text></g>
<g id="e-n7" class="n"><circle cx="0" cy="393" r="12.5"/><text class="l" x="18" y="398">A<tspan class="s" dy="3.5">4</tspan></text></g>
<g id="e-n8" class="n"><circle cx="0" cy="446.8" r="12.5"/><text class="l" x="18" y="451.8">W<tspan class="s" dy="3.5">4</tspan></text></g>
<g id="e-n9" class="n"><circle cx="0" cy="500.5" r="12.5"/><text class="l" x="18" y="505.5">A<tspan class="s" dy="3.5">5</tspan></text></g>
<g id="e-n10" class="n"><circle cx="0" cy="554.2" r="12.5"/><text class="l" x="18" y="559.2">W<tspan class="s" dy="3.5">5</tspan></text></g>
<g id="e-n11" class="n"><circle cx="0" cy="607.9" r="12.5"/><text class="l" x="18" y="612.9">A<tspan class="s" dy="3.5">6</tspan></text></g>
<g id="e-n12" class="n"><circle cx="0" cy="661.6" r="12.5"/><text class="l" x="18" y="666.6">W<tspan class="s" dy="3.5">6</tspan></text></g>
<g id="e-n13" class="n"><circle cx="0" cy="715.4" r="12.5"/><text class="l" x="18" y="720.4">A<tspan class="s" dy="3.5">7</tspan></text></g>
<g id="e-n14" class="n"><circle cx="0" cy="769.1" r="12.5"/><text class="c" x="-10" y="773.1" textLength="20" lengthAdjust="spacingAndGlyphs">&lt;<tspan class="cc">c</tspan>&gt;</text><text class="l" x="17" y="774.1">end</text></g>
<g id="e-t0"><line class="bar" x1="-13" y1="43.5" x2="15" y2="43.5"/><text class="l" x="19" y="49">B.A<tspan class="s" dy="3.5">1</tspan></text><text class="x" x="-31" y="39" textLength="24" lengthAdjust="spacingAndGlyphs">&lt;x&gt;</text><text class="x" x="-31" y="55.5" textLength="24" lengthAdjust="spacingAndGlyphs">&lt;x&gt;</text></g>
<g id="e-t1"><line class="bar" x1="-13" y1="97.2" x2="15" y2="97.2"/><text class="l" x="19" y="102.7">E.A<tspan class="s" dy="3.5">1</tspan></text><text class="x" x="-31" y="92.7" textLength="24" lengthAdjust="spacingAndGlyphs">&lt;x&gt;</text><text class="x" x="-31" y="109.2" textLength="24" lengthAdjust="spacingAndGlyphs">&lt;x&gt;</text></g>
<g id="e-t2"><line class="bar" x1="-13" y1="150.9" x2="15" y2="150.9"/><text class="l" x="19" y="156.4">B.A<tspan class="s" dy="3.5">2</tspan></text><text class="x" x="-31" y="146.4" textLength="24" lengthAdjust="spacingAndGlyphs">&lt;x&gt;</text><text class="x" x="-31" y="162.9" textLength="24" lengthAdjust="spacingAndGlyphs">&lt;x&gt;</text></g>
<g id="e-t3"><line class="bar" x1="-13" y1="204.7" x2="15" y2="204.7"/><text class="l" x="19" y="210.2">E.A<tspan class="s" dy="3.5">2</tspan></text><text class="x" x="-31" y="200.2" textLength="24" lengthAdjust="spacingAndGlyphs">&lt;x&gt;</text><text class="x" x="-31" y="216.7" textLength="24" lengthAdjust="spacingAndGlyphs">&lt;x&gt;</text></g>
<g id="e-t4"><line class="bar" x1="-13" y1="258.4" x2="15" y2="258.4"/><text class="l" x="19" y="263.9">B.A<tspan class="s" dy="3.5">3</tspan></text><text class="x" x="-31" y="253.9" textLength="24" lengthAdjust="spacingAndGlyphs">&lt;x&gt;</text><text class="x" x="-31" y="270.4" textLength="24" lengthAdjust="spacingAndGlyphs">&lt;x&gt;</text></g>
<g id="e-t5"><line class="bar" x1="-13" y1="312.1" x2="15" y2="312.1"/><text class="l" x="19" y="317.6">E.A<tspan class="s" dy="3.5">3</tspan></text><text class="x" x="-31" y="307.6" textLength="24" lengthAdjust="spacingAndGlyphs">&lt;x&gt;</text><text class="x" x="-31" y="324.1" textLength="24" lengthAdjust="spacingAndGlyphs">&lt;x&gt;</text></g>
<g id="e-t6"><line class="bar" x1="-13" y1="365.8" x2="15" y2="365.8"/><text class="l" x="19" y="371.3">B.A<tspan class="s" dy="3.5">4</tspan></text><text class="x" x="-31" y="361.3" textLength="24" lengthAdjust="spacingAndGlyphs">&lt;x&gt;</text><text class="x" x="-31" y="377.8" textLength="24" lengthAdjust="spacingAndGlyphs">&lt;x&gt;</text></g>
<g id="e-t7"><line class="bar" x1="-13" y1="419.5" x2="15" y2="419.5"/><text class="l" x="19" y="425">E.A<tspan class="s" dy="3.5">4</tspan></text><text class="x" x="-31" y="415" textLength="24" lengthAdjust="spacingAndGlyphs">&lt;x&gt;</text><text class="x" x="-31" y="431.5" textLength="24" lengthAdjust="spacingAndGlyphs">&lt;x&gt;</text></g>
<g id="e-t8"><line class="bar" x1="-13" y1="473.3" x2="15" y2="473.3"/><text class="l" x="19" y="478.8">B.A<tspan class="s" dy="3.5">5</tspan></text><text class="x" x="-31" y="468.8" textLength="24" lengthAdjust="spacingAndGlyphs">&lt;x&gt;</text><text class="x" x="-31" y="485.3" textLength="24" lengthAdjust="spacingAndGlyphs">&lt;x&gt;</text></g>
<g id="e-t9"><line class="bar" x1="-13" y1="527" x2="15" y2="527"/><text class="l" x="19" y="532.5">E.A<tspan class="s" dy="3.5">5</tspan></text><text class="x" x="-31" y="522.5" textLength="24" lengthAdjust="spacingAndGlyphs">&lt;x&gt;</text><text class="x" x="-31" y="539" textLength="24" lengthAdjust="spacingAndGlyphs">&lt;x&gt;</text></g>
<g id="e-t10"><line class="bar" x1="-13" y1="580.7" x2="15" y2="580.7"/><text class="l" x="19" y="586.2">B.A<tspan class="s" dy="3.5">6</tspan></text><text class="x" x="-31" y="576.2" textLength="24" lengthAdjust="spacingAndGlyphs">&lt;x&gt;</text><text class="x" x="-31" y="592.7" textLength="24" lengthAdjust="spacingAndGlyphs">&lt;x&gt;</text></g>
<g id="e-t11"><line class="bar" x1="-13" y1="634.4" x2="15" y2="634.4"/><text class="l" x="19" y="639.9">E.A<tspan class="s" dy="3.5">6</tspan></text><text class="x" x="-31" y="629.9" textLength="24" lengthAdjust="spacingAndGlyphs">&lt;x&gt;</text><text class="x" x="-31" y="646.4" textLength="24" lengthAdjust="spacingAndGlyphs">&lt;x&gt;</text></g>
<g id="e-t12"><line class="bar" x1="-13" y1="688.1" x2="15" y2="688.1"/><text class="l" x="19" y="693.6">B.A<tspan class="s" dy="3.5">7</tspan></text><text class="x" x="-31" y="683.6" textLength="24" lengthAdjust="spacingAndGlyphs">&lt;x&gt;</text><text class="x" x="-31" y="700.1" textLength="24" lengthAdjust="spacingAndGlyphs">&lt;x&gt;</text></g>
<g id="e-t13"><line class="bar" x1="-13" y1="741.9" x2="15" y2="741.9"/><text class="l" x="19" y="747.4">E.A<tspan class="s" dy="3.5">7</tspan></text><text class="x" x="-31" y="737.4" textLength="24" lengthAdjust="spacingAndGlyphs">&lt;x&gt;</text><text class="x" x="-31" y="753.9" textLength="24" lengthAdjust="spacingAndGlyphs">&lt;x&gt;</text></g>
</g>

<g id="captions" class="cap">
<text x="17" y="813">(a)</text><text x="17" y="839">τ<tspan x="31">=</tspan><tspan class="num" x="54">24</tspan></text>
<text x="130" y="813">(b)</text><text x="130" y="839">τ<tspan x="144">=</tspan><tspan class="num" x="167">49</tspan></text>
<text x="228" y="813">(c)</text><text x="228" y="839">τ<tspan x="242">=</tspan><tspan class="num" x="265">75</tspan></text>
<text x="334" y="813">(d)</text><text x="334" y="839">τ<tspan x="348">=</tspan><tspan class="num" x="371">85</tspan></text>
<text x="441" y="813">(e)</text><text x="441" y="839">τ<tspan x="455">=</tspan><tspan class="num" x="478">100</tspan></text>
</g>
</svg>
